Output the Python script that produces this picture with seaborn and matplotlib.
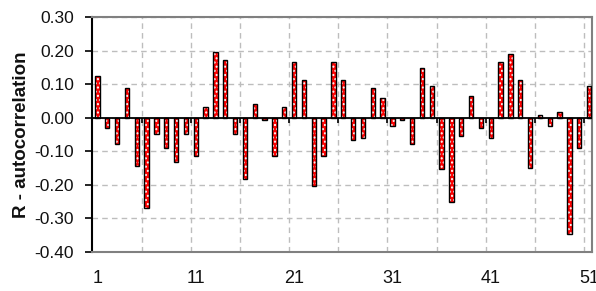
import matplotlib
matplotlib.use("Agg")
import matplotlib.pyplot as plt
import seaborn as sns
import numpy as np
import pandas as pd

lags = list(range(1, 52))
autocorr = [0.125, -0.030, -0.077, 0.089, -0.143, -0.268, -0.049, -0.090, -0.132, -0.049,
            -0.113, 0.031, 0.196, 0.172, -0.049, -0.184, 0.042, -0.008, -0.113, 0.031,
            0.167, 0.113, -0.202, -0.113, 0.167, 0.113, -0.066, -0.060, 0.089, 0.059,
            -0.024, -0.008, -0.077, 0.149, 0.095, -0.154, -0.250, -0.054, 0.065, -0.031,
            -0.060, 0.167, 0.190, 0.113, -0.150, 0.007, -0.025, 0.018, -0.345, -0.090,
            0.094]
xtick_labels = ["1", "11", "21", "31", "41", "51"]
yticks = [-0.40, -0.30, -0.20, -0.10, 0.00, 0.10, 0.20, 0.30]

sns.set_style("white")
plt.rcParams['font.family'] = ['Liberation Sans', 'DejaVu Sans']
plt.rcParams['hatch.linewidth'] = 1.0

df = pd.DataFrame({"lag": [str(l) for l in lags], "r": autocorr})

fig = plt.figure(figsize=(5.96, 2.91), dpi=100)
ax = fig.add_axes([92/596, 1-252/291, 500/596, 235/291])

# grid
for y in yticks:
    ax.axhline(y, color="#bdbdbd", lw=1, ls=(0, (4, 3)), zorder=0)
bounds = np.arange(4.5, 50, 5)
for b in bounds:
    ax.axvline(b, color="#bdbdbd", lw=1, ls=(0, (4, 3)), zorder=0)

sns.barplot(data=df, x="lag", y="r", color="red", saturation=1, width=0.45,
            edgecolor="white", linewidth=0, hatch="....", ax=ax, zorder=2)
sns.barplot(data=df, x="lag", y="r", color="black", saturation=1, width=0.45,
            fill=False, linewidth=1.0, ax=ax, zorder=3)

ax.axhline(0, color="black", lw=1.3, zorder=4)
ax.vlines(bounds, -0.016, 0, color="black", lw=1.2, zorder=4)

ax.set_ylim(-0.40, 0.30)
ax.set_xlim(-0.55, 50.3)
ax.set_yticks(yticks)
ax.set_yticklabels([f"{v:.2f}" for v in yticks], fontsize=12.5, color="#111111")
ax.set_xticks([0, 10, 20, 30, 40, 50])
ax.set_xticklabels(xtick_labels, fontsize=13, color="#111111")
ax.tick_params(axis="x", length=0, pad=13)
ax.tick_params(axis="y", length=5, width=1.2, color="black", pad=8, direction="out", left=True)
ax.set_xlabel("")
ax.set_ylabel("R - autocorrelation", fontsize=13.5, fontweight="bold", labelpad=3, color="#111111")

for s in ["top", "right", "bottom"]:
    ax.spines[s].set_color("#808080")
    ax.spines[s].set_linewidth(1.5)
ax.spines["left"].set_color("black")
ax.spines["left"].set_linewidth(1.5)

fig.savefig("out.png", dpi=100)
